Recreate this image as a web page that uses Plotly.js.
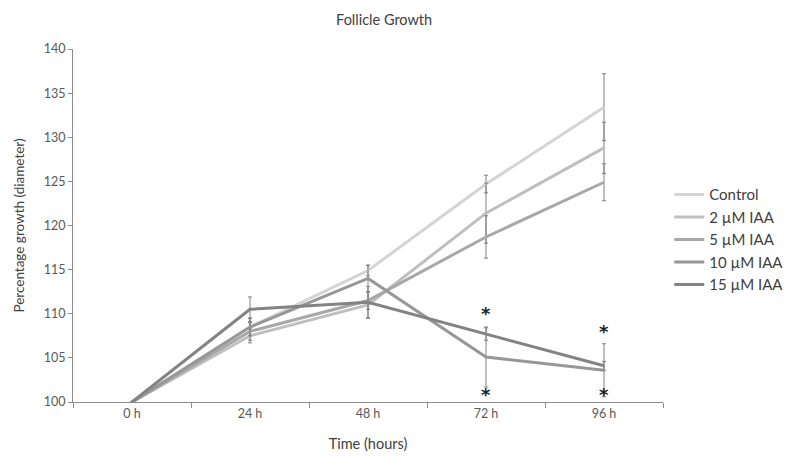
<!DOCTYPE html>
<html><head><meta charset="utf-8">
<script src="https://cdn.plot.ly/plotly-3.0.1.min.js"></script>
<style>html,body{margin:0;padding:0;background:#fff}#chart{width:792px;height:468px}</style>
</head><body><div id="chart"></div>
<script>
const times = ["0 h","24 h","48 h","72 h","96 h"];
const seriesNames = ["Control","2 µM IAA","5 µM IAA","10 µM IAA","15 µM IAA"];
const control = [100,108.5,114.9,124.7,133.4];
const iaa2 = [100,107.5,111.0,121.4,128.8];
const iaa5 = [100,108.0,111.5,118.7,124.9];
const iaa10 = [100,108.5,114.0,105.1,103.6];
const iaa15 = [100,110.5,111.3,107.7,104.1];
const errControl = [0,1.0,0.6,1.0,3.8];
const err2 = [0,0.8,1.5,3.4,2.9];
const err5 = [0,1.0,1.0,2.4,2.1];
const err10 = [0,1.0,1.5,3.4,3.0];
const err15 = [0,1.4,1.8,0.7,0.5];
const starX = ["72 h","72 h","96 h","96 h"];
const starY = [110.0,100.8,108.0,100.9];
const colors = ["#d4d4d4","#bfbfbf","#a8a8a8","#979797","#838383"];
const values = [control,iaa2,iaa5,iaa10,iaa15];
const errs = [errControl,err2,err5,err10,err15];
const traces = values.map((v,i)=>({
  type:"scatter",mode:"lines",x:times,y:v,name:seriesNames[i],
  line:{color:colors[i],width:3},
  error_y:{type:"data",array:errs[i],visible:true,color:"#808080",thickness:1,width:2}
}));
const font = "Lato, 'Open Sans', sans-serif";
const layout = {
  width:792,height:468,
  margin:{l:73,r:129,t:49,b:66,autoexpand:false},
  paper_bgcolor:"#fff",plot_bgcolor:"#fff",
  font:{family:font,color:"#595959",size:13},
  title:{text:"Follicle Growth",font:{family:font,size:14.5,color:"#404040"},x:0.485,xanchor:"center",y:0.957,yanchor:"middle"},
  xaxis:{type:"category",range:[-0.5,4.5],showgrid:false,zeroline:false,showline:true,linecolor:"#8c8c8c",linewidth:1,
    ticks:"outside",tickson:"boundaries",ticklen:5,tickcolor:"#8c8c8c",tickfont:{size:12.5},
    title:{text:"Time (hours)",font:{family:font,size:14.5,color:"#404040"},standoff:18}},
  yaxis:{range:[100,140],dtick:5,showgrid:false,zeroline:false,showline:true,linecolor:"#8c8c8c",linewidth:1,
    ticks:"outside",ticklen:4,tickcolor:"#8c8c8c",tickfont:{size:12.5},
    title:{text:"Percentage growth (diameter)",font:{family:font,size:13.5,color:"#404040"},standoff:16}},
  legend:{xref:"container",yref:"container",x:0.845,y:0.619,xanchor:"left",yanchor:"top",font:{family:font,size:15,color:"#404040"},tracegroupgap:0,itemwidth:30},
  showlegend:true,
  annotations: starX.map((x,i)=>({x:x,y:starY[i],xref:"x",yref:"y",text:"<b>*</b>",showarrow:false,font:{size:18,color:"#222",family:"DejaVu Sans"},yanchor:"middle"}))
};
Plotly.newPlot("chart",traces,layout,{displayModeBar:false});
</script></body></html>
